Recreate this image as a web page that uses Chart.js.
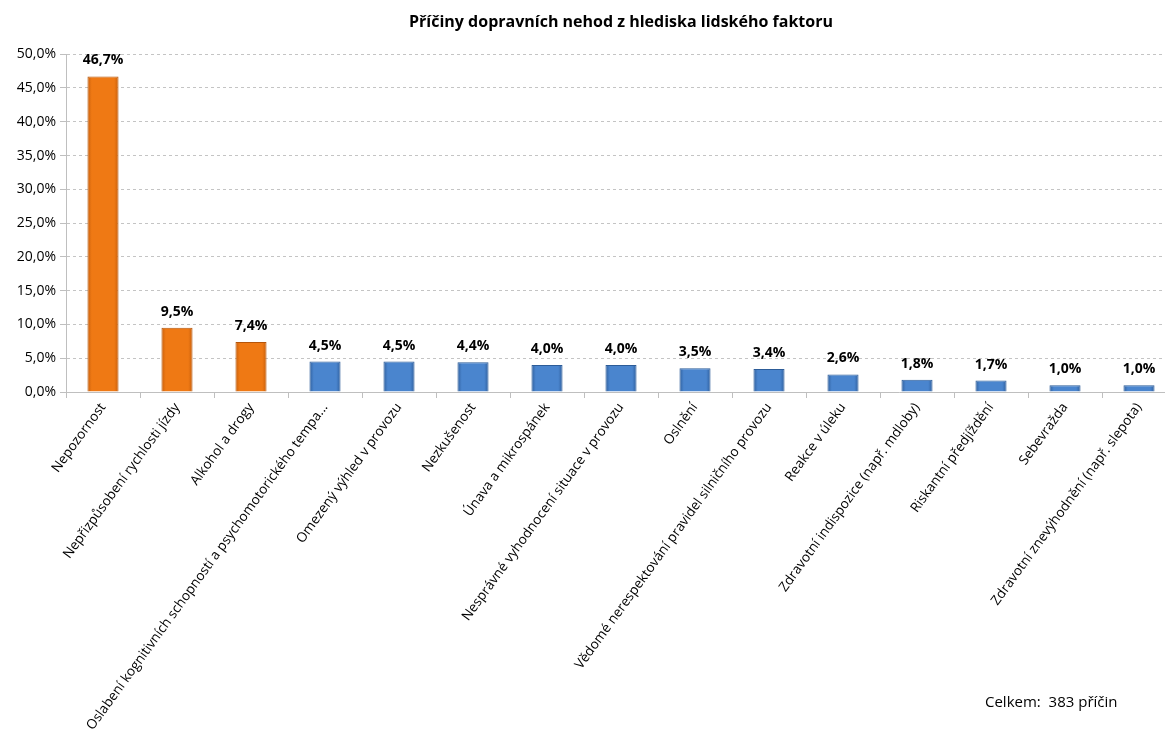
<!DOCTYPE html>
<html><head><meta charset="utf-8">
<script src="https://cdn.jsdelivr.net/npm/chart.js@4.4.1/dist/chart.umd.min.js"></script>
<style>
html,body{margin:0;padding:0;background:#fff;overflow:hidden;width:1165px;height:738px;}
#wrap{position:absolute;left:0;top:0;width:1180px;height:738px;}
#note{position:absolute;left:985px;top:691px;font:15px "Open Sans",sans-serif;color:#000;white-space:nowrap;}
</style></head>
<body>
<div id="wrap"><canvas id="c" width="1180" height="738"></canvas></div>
<div id="note">Celkem:&nbsp; 383 příčin</div>
<script>
const categories = [
  "Nepozornost",
  "Nepřizpůsobení rychlosti jízdy",
  "Alkohol a drogy",
  "Oslabení kognitivních schopností a psychomotorického tempa...",
  "Omezený výhled v provozu",
  "Nezkušenost",
  "Únava a mikrospánek",
  "Nesprávné vyhodnocení situace v provozu",
  "Oslnění",
  "Vědomé nerespektování pravidel silničního provozu",
  "Reakce v úleku",
  "Zdravotní indispozice (např. mdloby)",
  "Riskantní předjíždění",
  "Sebevražda",
  "Zdravotní znevýhodnění (např. slepota)"
];
const values = [46.7, 9.5, 7.4, 4.5, 4.5, 4.4, 4.0, 4.0, 3.5, 3.4, 2.6, 1.8, 1.7, 1.0, 1.0];
const highlighted = [true, true, true, false, false, false, false, false, false, false, false, false, false, false, false];
const yTicks = [0, 5, 10, 15, 20, 25, 30, 35, 40, 45, 50];
const titleText = "Příčiny dopravních nehod z hlediska lidského faktoru";

const fmt = v => v.toFixed(1).replace('.', ',') + '%';

const labelPlugin = {
  id: 'valLabels',
  afterDatasetsDraw(chart) {
    const ctx = chart.ctx;
    const meta = chart.getDatasetMeta(0);
    ctx.save();
    ctx.font = 'bold 14px "Open Sans", sans-serif';
    ctx.fillStyle = '#000';
    ctx.textAlign = 'center';
    ctx.textBaseline = 'alphabetic';
    meta.data.forEach((bar, i) => {
      ctx.fillText(fmt(values[i]), bar.x, bar.y - 12);
    });
    ctx.restore();
  }
};

function barFill(ctx) {
  const chart = ctx.chart;
  const el = ctx.element;
  const hi = highlighted[ctx.dataIndex];
  const plain = hi ? '#F07A14' : '#4A85CE';
  if (!el || !chart.chartArea || !Number.isFinite(el.x) || !Number.isFinite(el.width)) return plain;
  const w = el.width;
  const g = chart.ctx.createLinearGradient(el.x - w / 2, 0, el.x + w / 2, 0);
  if (hi) {
    g.addColorStop(0, '#C9600C'); g.addColorStop(0.14, '#EF7914'); g.addColorStop(0.86, '#EF7914'); g.addColorStop(1, '#C9600C');
  } else {
    g.addColorStop(0, '#30609E'); g.addColorStop(0.14, '#4A85CE'); g.addColorStop(0.86, '#4A85CE'); g.addColorStop(1, '#30609E');
  }
  return g;
}

const chart = new Chart(document.getElementById('c'), {
  type: 'bar',
  data: {
    labels: categories,
    datasets: [{
      data: values,
      backgroundColor: barFill,
      borderColor: highlighted.map(h => h ? '#B5550A' : '#2C5C98'),
      borderWidth: 1,
      barPercentage: 0.84,
      categoryPercentage: 0.5
    }]
  },
  options: {
    responsive: false,
    animation: false,
    layout: { padding: { left: 0, right: 4, top: 4, bottom: 0 } },
    plugins: {
      legend: { display: false },
      tooltip: { enabled: false },
      title: {
        display: true, text: titleText, fullSize: false,
        color: '#000', font: { family: '"Open Sans", sans-serif', size: 16, weight: 'bold' },
        padding: { top: 9, bottom: 22 }
      }
    },
    scales: {
      x: {
        offset: true,
        afterFit: s => { s.height = 346; },
        grid: { offset: true, drawOnChartArea: false, drawTicks: true, tickLength: 6, color: '#BFBFBF' },
        border: { color: '#BFBFBF' },
        ticks: {
          autoSkip: false, maxRotation: 54, minRotation: 54, color: '#000',
          font: { family: '"Open Sans", sans-serif', size: 13.5 }, padding: 2
        }
      },
      y: {
        min: 0, max: 50,
        afterFit: s => { s.width = 66; },
        afterBuildTicks: s => { s.ticks = yTicks.map(v => ({ value: v })); },
        grid: { color: '#C4C4C4', tickLength: 6, tickColor: '#BFBFBF' },
        border: { color: '#BFBFBF', dash: [3, 3] },
        ticks: {
          color: '#000', padding: 4,
          font: { family: '"Open Sans", sans-serif', size: 14 },
          callback: v => fmt(v)
        }
      }
    }
  },
  plugins: [labelPlugin]
});
chart.update();
</script>
</body></html>
